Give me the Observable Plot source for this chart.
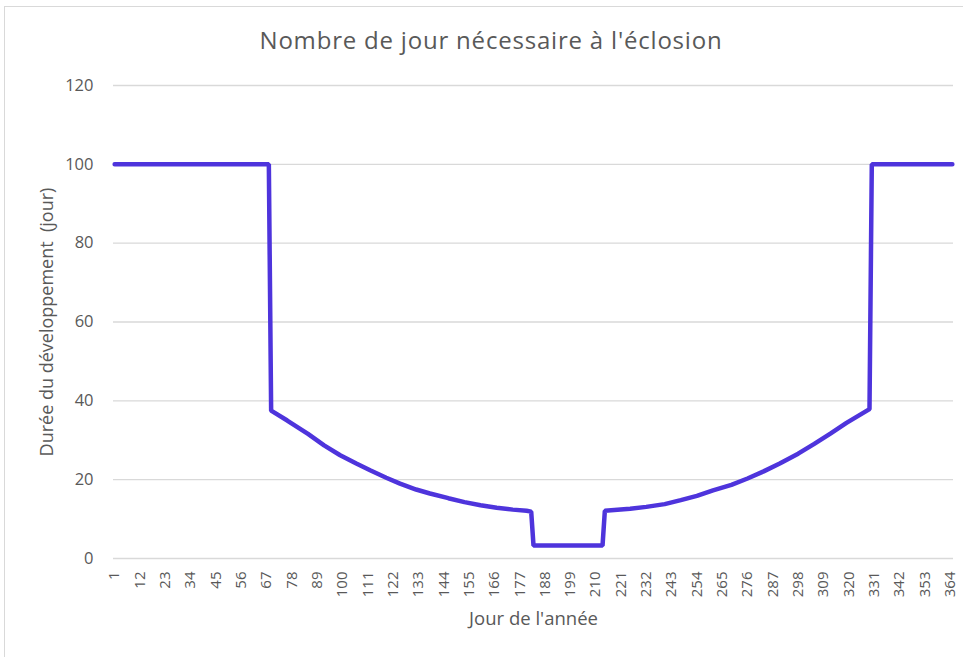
<!DOCTYPE html>
<html>
<head>
<meta charset="utf-8">
<script src="https://cdn.jsdelivr.net/npm/d3@7"></script>
<script src="https://cdn.jsdelivr.net/npm/@observablehq/plot@0.6"></script>
<style>
  html, body { margin: 0; padding: 0; background: #fff; }
  #wrap { position: relative; width: 963px; height: 657px; overflow: hidden; font-family: "Open Sans", sans-serif; }
  #frame { position: absolute; left: 4px; top: 6px; width: 1200px; height: 1200px; border-left: 1px solid #d9d9d9; border-top: 1px solid #d9d9d9; }
  #title { position: absolute; left: 0; top: 23px; width: 982px; text-align: center; font-size: 24px; letter-spacing: 0.8px; line-height: 33px; color: #595959; }
  #chart { position: absolute; left: 0; top: 60px; }
</style>
</head>
<body>
<div id="wrap">
  <div id="frame"></div>
  <div id="title"></div>
  <div id="chart"></div>
</div>
<script>
const title = "Nombre de jour nécessaire à l'éclosion";
const xLabel = "Jour de l'année";
const yLabel = "Durée du développement  (jour)";
const days  = [1, 68, 69, 76, 85, 92, 99, 106, 112, 119, 125, 132, 138, 146, 153, 160, 167, 174, 180, 182, 183, 213, 214, 225, 232, 240, 247, 254, 261, 269, 276, 283, 290, 298, 305, 312, 319, 329, 330, 365];
const duree = [100, 100, 37.5, 35.0, 31.6, 28.7, 26.2, 24.1, 22.4, 20.5, 19.0, 17.5, 16.5, 15.3, 14.3, 13.5, 12.9, 12.4, 12.1, 11.9, 3.3, 3.3, 12.1, 12.6, 13.1, 13.8, 14.8, 15.9, 17.3, 18.7, 20.3, 22.1, 24.1, 26.6, 29.1, 31.7, 34.4, 37.9, 100, 100];
const xTicks = [1, 12, 23, 34, 45, 56, 67, 78, 89, 100, 111, 122, 133, 144, 155, 166, 177, 188, 199, 210, 221, 232, 243, 254, 265, 276, 287, 298, 309, 320, 331, 342, 353, 364];
const yTicks = [0, 20, 40, 60, 80, 100, 120];

document.getElementById("title").textContent = title;
const data = days.map((d, i) => ({jour: d, duree: duree[i]}));

const chart = Plot.plot({
  width: 963,
  height: 590,
  marginTop: 25,
  marginBottom: 92,
  marginLeft: 113,
  marginRight: 10,
  style: {fontFamily: "Open Sans, sans-serif", color: "#595959", background: "transparent"},
  x: {domain: [0.5, 365.5]},
  y: {domain: [0, 120]},
  marks: [
    Plot.gridY(yTicks, {stroke: "#d9d9d9", strokeOpacity: 1, strokeWidth: 1.3}),
    Plot.axisY(yTicks, {tickSize: 0, tickPadding: 20, fontSize: 16.5, label: null}),
    Plot.axisX(xTicks, {tickSize: 0, tickPadding: 13, tickRotate: -90, fontSize: 15, label: null}),
    Plot.text([yLabel], {frameAnchor: "left", textAnchor: "middle", dx: -66, rotate: -90, fontSize: 18, fill: "#595959"}),
    Plot.text([xLabel], {frameAnchor: "bottom", dy: 66, fontSize: 18.5, fill: "#595959"}),
    Plot.line(data, {x: "jour", y: "duree", stroke: "#4E34DC", strokeWidth: 4.5, strokeLinejoin: "miter", strokeLinecap: "round"})
  ]
});
document.getElementById("chart").appendChild(chart);
</script>
</body>
</html>
